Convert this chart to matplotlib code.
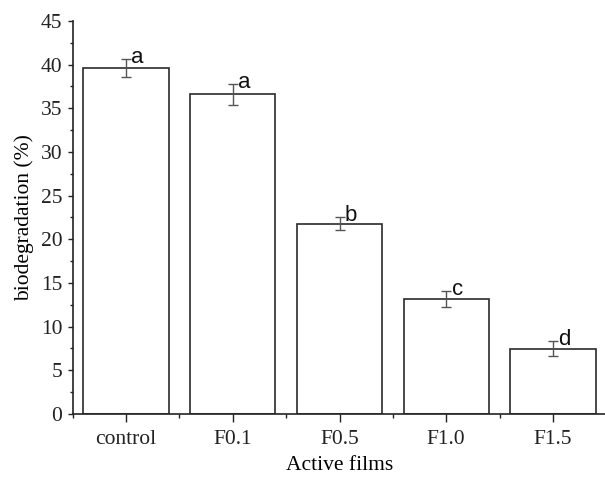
import matplotlib.pyplot as plt
from matplotlib.ticker import MultipleLocator

films = ['control', 'F0.1', 'F0.5', 'F1.0', 'F1.5']
biodeg = [39.6, 36.6, 21.8, 13.2, 7.45]
errors = [1.0, 1.2, 0.77, 0.92, 0.86]
letters = ['a', 'a', 'b', 'c', 'd']

plt.rcParams['font.family'] = 'Liberation Serif'

fig = plt.figure(figsize=(6.05, 4.79), dpi=100)
ax = fig.add_axes([0.1202, 0.1357, 0.882, 0.8205])

x = list(range(len(films)))
ax.bar(x, biodeg, width=0.8, color='white', edgecolor='#2a2a2a', linewidth=1.2, zorder=2)
ax.errorbar(x, biodeg, yerr=errors, fmt='none', ecolor='#555555', elinewidth=1,
            capsize=3.5, capthick=1, zorder=3)

for xi, v, e, lab in zip(x, biodeg, errors, letters):
    ax.text(xi + 0.05, v + e - 0.45, lab, ha='left', va='baseline',
            fontsize=16, family='Liberation Sans', color='#111111')

ax.set_xlim(-0.5, 4.5)
ax.set_ylim(0, 45)
ax.set_xticks(x)
ax.set_xticklabels(films)
ax.xaxis.set_minor_locator(MultipleLocator(0.5))
ax.yaxis.set_major_locator(MultipleLocator(5))
ax.yaxis.set_minor_locator(MultipleLocator(2.5))

ax.spines['top'].set_visible(False)
ax.spines['right'].set_visible(False)
for s in ['left', 'bottom']:
    ax.spines[s].set_linewidth(1.2)
    ax.spines[s].set_color('#222222')

ax.tick_params(axis='x', which='major', length=5.5, width=1, labelsize=15.5, pad=6, colors='#222222')
ax.tick_params(axis='x', which='minor', length=3, width=1, colors='#222222')
ax.tick_params(axis='y', which='major', length=3.5, width=1, labelsize=15.5, pad=4, colors='#222222')
ax.tick_params(axis='y', which='minor', length=2, width=1, colors='#222222')

ax.set_xlabel('Active films', fontsize=15.5, labelpad=5)
ax.set_ylabel('biodegradation (%)', fontsize=15.5, labelpad=5)

fig.savefig('out.png', dpi=100)
